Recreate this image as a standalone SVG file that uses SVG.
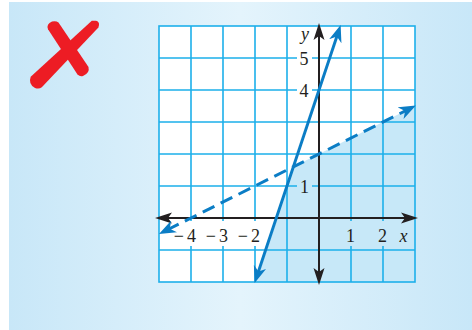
<svg xmlns="http://www.w3.org/2000/svg" width="472" height="330" viewBox="0 0 472 330">
  <defs>
    <linearGradient id="bg" x1="0" y1="0" x2="1" y2="0">
      <stop offset="0" stop-color="#c8e7f8"/>
      <stop offset="0.5" stop-color="#e4f4fc"/>
      <stop offset="1" stop-color="#c8e7f8"/>
    </linearGradient>
    <marker id="bArrow" markerUnits="userSpaceOnUse" markerWidth="18" markerHeight="14" viewBox="0 0 18 14" refX="8" refY="7" orient="auto-start-reverse">
      <path d="M17,7 L0,0.5 L5,7 L0,13.5 Z" fill="#0b7dc5"/>
    </marker>
    <marker id="kArrow" markerUnits="userSpaceOnUse" markerWidth="18" markerHeight="14" viewBox="0 0 18 14" refX="6" refY="7" orient="auto-start-reverse">
      <path d="M17,7 L0,1.5 L4,7 L0,12.5 Z" fill="#231f20"/>
    </marker>
  </defs>
  <style>
    .grid { stroke: #1db0ea; stroke-width: 1.6; fill: none; }
    .axis { stroke: #231f20; stroke-width: 2; fill: none; }
    .bline { stroke: #0b7dc5; stroke-width: 3; fill: none; }
    .dash { stroke-dasharray: 13 7; }
    .lbl { font-family: "Liberation Serif", "Times New Roman", serif; font-size: 18px; fill: #231f20; }
    .it { font-style: italic; }
    .shade { fill: #c7e8f8; }
    .wbg { fill: #ffffff; }
  </style>

  <rect x="9" y="2" width="463" height="328" fill="url(#bg)"/>

  <g id="cross-mark">
    <path d="M48,29.3 Q46,24 52,21.5 Q56,20.5 58.5,22.5 L88.5,67 Q90,73 83,76 Q80,77 77.5,74.5 Z" fill="#ed1c24"/>
    <path d="M91.8,20.8 L30.7,76.7 Q28,84 35,88 Q39,89.5 41.8,87.3 L98.4,27.4 Q100.5,22 96,20.8 Z" fill="#ed1c24"/>
  </g>

  <g id="plane">
    <rect x="159" y="26" width="256" height="256" fill="#ffffff"/>
    <polygon class="shade" points="255,282 293.4,166.8 415,106 415,282"/>
    <g class="grid">
      <rect x="159" y="26" width="256" height="256"/>
      <path d="M191,26V282M223,26V282M255,26V282M287,26V282M351,26V282M383,26V282"/>
      <path d="M159,58H415M159,90H415M159,122H415M159,154H415M159,186H415M159,250H415"/>
    </g>
  </g>

  <g id="labels">
    <rect class="wbg" x="297" y="50" width="15" height="16"/>
    <rect class="wbg" x="297" y="82" width="15" height="16"/>
    <rect class="shade" x="297" y="178" width="15" height="16"/>
    <rect class="wbg" x="168" y="221" width="30" height="25"/>
    <rect class="wbg" x="200" y="221" width="30" height="25"/>
    <rect class="wbg" x="233" y="221" width="29" height="25"/>
    <rect class="shade" x="343" y="221" width="15" height="25"/>
    <rect class="shade" x="375" y="221" width="15" height="25"/>
    <text class="lbl" x="304" y="64.5" text-anchor="middle">5</text>
    <text class="lbl" x="304" y="96.5" text-anchor="middle">4</text>
    <text class="lbl" x="304.5" y="192.5" text-anchor="middle">1</text>
    <text class="lbl it" x="305" y="40" text-anchor="middle">y</text>
    <text class="lbl" x="196" y="241.5" text-anchor="end">−<tspan dx="3">4</tspan></text>
    <text class="lbl" x="228" y="241.5" text-anchor="end">−<tspan dx="3">3</tspan></text>
    <text class="lbl" x="260" y="241.5" text-anchor="end">−<tspan dx="3">2</tspan></text>
    <text class="lbl" x="350.5" y="241.5" text-anchor="middle">1</text>
    <text class="lbl" x="382.5" y="241.5" text-anchor="middle">2</text>
    <text class="lbl it" x="403.5" y="241.5" text-anchor="middle">x</text>
  </g>

  <g id="connectors">
    <line class="axis" x1="166" y1="218" x2="407" y2="218" marker-start="url(#kArrow)" marker-end="url(#kArrow)"/>
    <line class="axis" x1="319" y1="274" x2="319" y2="34" marker-start="url(#kArrow)" marker-end="url(#kArrow)"/>
    <line class="bline" x1="257.5" y1="274.4" x2="337.8" y2="33.6" marker-start="url(#bArrow)" marker-end="url(#bArrow)"/>
    <line class="bline dash" x1="167" y1="230" x2="407.8" y2="109.6" marker-start="url(#bArrow)" marker-end="url(#bArrow)"/>
  </g>
</svg>
